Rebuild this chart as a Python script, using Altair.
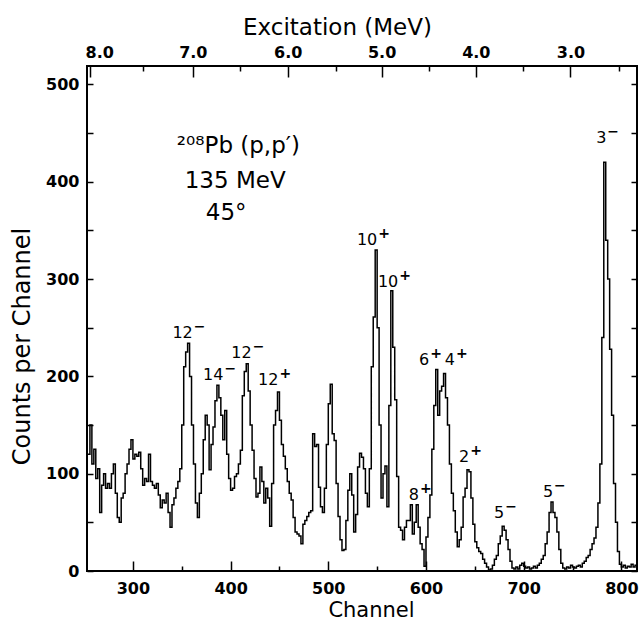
import altair as alt
import pandas as pd

# ---------------- data ----------------
start_channel = 254
bin_width = 2
counts = [
    120, 150, 110, 125, 95, 105, 60, 88, 100, 85,      # 254-272
    90, 85, 100, 110, 80, 55, 50, 75, 80, 100,         # 274-292
    110, 125, 135, 115, 120, 118, 122, 105, 88, 95,    # 294-312
    92, 120, 92, 88, 85, 90, 78, 65, 73, 70,           # 314-332
    80, 60, 45, 68, 75, 85, 92, 105, 150, 210,         # 334-352
    225, 234, 200, 150, 110, 70, 55, 80, 100, 135,     # 354-372
    160, 150, 104, 130, 148, 175, 191, 178, 160, 135,  # 374-392
    165, 120, 95, 83, 85, 97, 100, 110, 124, 180,      # 394-412
    205, 213, 185, 150, 124, 95, 76, 80, 107, 92,      # 414-432
    70, 85, 75, 46, 90, 150, 165, 184, 155, 130,       # 434-452
    118, 105, 92, 80, 73, 55, 40, 38, 36, 28,          # 454-472
    48, 52, 56, 60, 62, 141, 128, 130, 86, 66,         # 474-492
    60, 85, 130, 172, 192, 141, 134, 90, 56, 32,       # 494-512
    21, 22, 52, 83, 100, 78, 40, 58, 107, 121,         # 514-532
    117, 105, 80, 66, 105, 210, 261, 330, 250, 150,    # 534-552
    75, 100, 108, 66, 170, 288, 230, 176, 97, 45,      # 554-572
    42, 32, 45, 52, 52, 68, 38, 50, 68, 45,            # 574-592
    28, 22, 5, 35, 55, 78, 125, 170, 207, 160,         # 594-612
    185, 190, 203, 178, 150, 110, 80, 62, 40, 25,      # 614-632
    32, 45, 76, 85, 104, 102, 75, 48, 30, 24,          # 634-652
    20, 18, 12, 8, 4, 1, 2, 6, 12, 16,                 # 654-672
    28, 36, 46, 42, 32, 22, 10, 3, 2, 4,               # 674-692
    2, 6, 8, 5, 3, 4, 2, 3, 5, 3,                      # 694-712
    6, 8, 12, 16, 28, 40, 60, 71, 60, 55,              # 714-732
    40, 22, 8, 3, 2, 4, 3, 6, 4, 3,                    # 734-752
    5, 6, 4, 8, 10, 14, 16, 22, 28, 34,                # 754-772
    45, 70, 110, 240, 420, 340, 300, 228, 160, 90,     # 774-792
    50, 20, 7, 4, 6, 3, 5, 4, 7, 4,                    # 794-812
    6,                                                 # 814
]

x_domain = [253, 816]
y_domain = [0, 519]

channel_major = [300, 400, 500, 600, 700, 800]
channel_minor = [350, 450, 550, 650, 750]
count_labels = [0, 100, 200, 300, 400, 500]
count_ticks = [0, 50, 100, 150, 200, 250, 300, 350, 400, 450, 500]

mev_major = ["8.0", "7.0", "6.0", "5.0", "4.0", "3.0"]
mev_major_channel = [255.6, 361.3, 458.5, 554.6, 651.0, 747.9]
mev_label_channel = [265.5, 361.3, 458.5, 554.6, 651.0, 747.9]
mev_minor_channel = [310.8, 409.7, 507.9, 603.0, 699.4, 797.5]

# spin-parity labels: number, sign, channel where number ends, count at baseline
state_number = ["12", "14", "12", "12", "10", "10", "6", "4", "8", "2", "5", "5", "3"]
state_sign = ["\u2212", "\u2212", "\u2212", "+", "+", "+", "+", "+", "+", "+", "\u2212", "\u2212", "\u2212"]
state_channel = [361.3, 392.7, 421.6, 448.9, 550.1, 571.6, 603.3, 629.6, 592.8, 644.2, 680.0, 730.1, 784.6]
state_counts = [239, 196, 219, 191, 335, 292, 212, 212, 73, 112, 54, 76, 440]

inset_lines = ["\u00b2\u2070\u2078Pb (p,p\u2032)", "135 MeV", "45\u00b0"]
inset_channel = [408, 404.7, 395.5]
inset_counts = [430, 394, 361]

# ---------------- tables ----------------
channels = [start_channel + bin_width * i for i in range(len(counts))]
spec = pd.DataFrame({
    "channel": channels + [channels[-1] + bin_width],
    "counts": counts + [counts[-1]],
})
states = pd.DataFrame({"number": state_number, "sign": state_sign,
                       "channel": state_channel, "counts": state_counts})
inset = pd.DataFrame({"label": inset_lines, "channel": inset_channel, "counts": inset_counts})

FONT = "DejaVu Sans"
xs = alt.Scale(domain=x_domain, nice=False, zero=False)
ys = alt.Scale(domain=y_domain, nice=False)


def tick_axis(orient, values, size):
    return alt.Axis(orient=orient, values=values, labels=False, ticks=True, tickSize=size,
                    offset=-size, domain=False, grid=False, title=None,
                    tickColor="black", tickWidth=1.5)


top_expr = "".join(
    f"abs(datum.value - {c}) < 0.5 ? '{l}' : " for c, l in zip(mev_label_channel, mev_major)
) + "''"

base = alt.Chart(spec)

line = base.mark_line(interpolate="step-after", color="black", strokeWidth=1.5).encode(
    x=alt.X("channel:Q", scale=xs, axis=alt.Axis(
        orient="bottom", values=channel_major, ticks=False, domain=False, grid=False,
        labelFont=FONT, labelFontSize=16, labelFontWeight="bold", labelColor="black",
        labelPadding=9, title="Channel", titleFont=FONT, titleFontSize=21,
        titleFontWeight="normal", titleColor="black", titleX=284, titleY=45,
        titleBaseline="alphabetic", titleAlign="center")),
    y=alt.Y("counts:Q", scale=ys, axis=alt.Axis(
        orient="left", values=count_labels, ticks=False, domain=False, grid=False,
        labelFont=FONT, labelFontSize=16, labelFontWeight="bold", labelColor="black",
        labelPadding=8, title="Counts per Channel", titleFont=FONT, titleFontSize=24,
        titleFontWeight="normal", titleColor="black", titleX=-65, titleY=280,
        titleAngle=270, titleBaseline="middle", titleAlign="center")),
)

ghost = base.mark_point(opacity=0, size=1)

g1 = ghost.encode(
    x=alt.X("channel:Q", scale=xs, axis=tick_axis("bottom", channel_major, 10)),
    y=alt.Y("counts:Q", scale=ys, axis=tick_axis("left", count_ticks, 6)),
)
g2 = ghost.encode(
    x=alt.X("channel:Q", scale=xs, axis=tick_axis("bottom", channel_minor, 5)),
    y=alt.Y("counts:Q", scale=ys, axis=tick_axis("right", count_ticks, 6)),
)
g3 = ghost.encode(
    x=alt.X("channel:Q", scale=xs, axis=alt.Axis(
        orient="top", values=mev_label_channel, ticks=False, domain=False, grid=False,
        labelExpr=top_expr, labelFont=FONT, labelFontSize=16, labelFontWeight="bold",
        labelColor="black", labelPadding=6,
        title="Excitation (MeV)", titleFont=FONT,
        titleFontSize=23, titleFontWeight="normal", titleColor="black",
        titleX=250, titleY=-32, titleBaseline="alphabetic", titleAlign="center")),
    y=alt.Y("counts:Q", scale=ys, axis=None),
)
g4 = ghost.encode(
    x=alt.X("channel:Q", scale=xs, axis=tick_axis("top", mev_major_channel, 11)),
    y=alt.Y("counts:Q", scale=ys, axis=None),
)
g5 = ghost.encode(
    x=alt.X("channel:Q", scale=xs, axis=tick_axis("top", mev_minor_channel, 5)),
    y=alt.Y("counts:Q", scale=ys, axis=None),
)

state_base = alt.Chart(states).encode(
    x=alt.X("channel:Q", scale=xs, axis=None),
    y=alt.Y("counts:Q", scale=ys, axis=None),
)
state_num = state_base.mark_text(
    font=FONT, fontSize=16, color="black", align="right", baseline="alphabetic"
).encode(text="number:N")
state_sgn = state_base.mark_text(
    font=FONT, fontSize=14, fontWeight="bold", color="black", align="left",
    baseline="alphabetic", dx=1, dy=-7
).encode(text="sign:N")

inset_text = alt.Chart(inset).mark_text(
    font=FONT, fontSize=23, color="black", align="center", baseline="alphabetic"
).encode(
    x=alt.X("channel:Q", scale=xs, axis=None),
    y=alt.Y("counts:Q", scale=ys, axis=None),
    text="label:N",
)

chart = alt.layer(line, g1, g2, g3, g4, g5, state_num, state_sgn, inset_text).resolve_axis(
    x="independent", y="independent"
).properties(
    width=550, height=505,
    autosize=alt.AutoSizeParams(type="none"),
    padding={"left": 87, "top": 66, "right": 4, "bottom": 61},
    background="white",
).configure_view(stroke="black", strokeWidth=2)

chart.save("out.html", embed_options={"renderer": "svg", "actions": False})
